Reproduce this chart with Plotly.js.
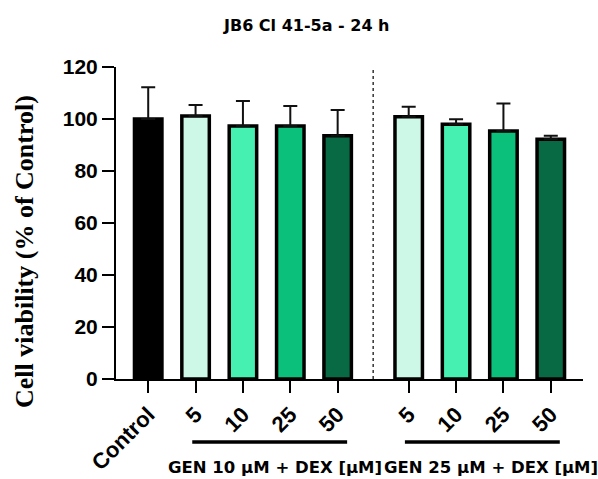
<!DOCTYPE html>
<html>
<head>
<meta charset="utf-8">
<script src="https://cdn.plot.ly/plotly-3.0.1.min.js"></script>
<style>html,body{margin:0;padding:0;background:#fff;}#chart{width:598px;height:479px;}</style>
</head>
<body>
<div id="chart"></div>
<script>
// ---- data ----
const titleText = "JB6 Cl 41-5a - 24 h";
const yTitle = "Cell viability (% of Control)";
const controlLabel = "Control";
const controlValue = 100;
const controlSD = 12.2;
const doseLabels = ["5", "10", "25", "50"];
const group1Name = "GEN 10 μM + DEX [μM]";
const group1Values = [101.2, 97.3, 97.3, 93.6];
const group1SD = [4.2, 9.6, 7.7, 9.9];
const group2Name = "GEN 25 μM + DEX [μM]";
const group2Values = [100.9, 98.0, 95.4, 92.2];
const group2SD = [3.8, 1.9, 10.6, 1.4];
const doseColors = ["#cdf7e6", "#45f0b0", "#0bc07b", "#086a44"];
const controlColor = "#000000";

// ---- layout positions (control, then two groups separated by a wider gap) ----
const groupGap = 1.5;
const g1Start = 1;
const g2Start = g1Start + doseLabels.length - 1 + groupGap;
const xPos = [0]
  .concat(doseLabels.map((_, i) => g1Start + i))
  .concat(doseLabels.map((_, i) => g2Start + i));
const yVals = [controlValue].concat(group1Values, group2Values);
const sds = [controlSD].concat(group1SD, group2SD);
const colors = [controlColor].concat(doseColors, doseColors);
const tickText = [controlLabel].concat(doseLabels, doseLabels);

const trace = {
  type: "bar",
  x: xPos,
  y: yVals,
  width: 0.58,
  marker: { color: colors, line: { color: "#000", width: 3.5 } },
  error_y: {
    type: "data", symmetric: false, array: sds,
    arrayminus: sds.map(() => 0),
    color: "#111", thickness: 2, width: 7
  },
  hoverinfo: "x+y",
  showlegend: false
};

const sepX = (g1Start + doseLabels.length - 1 + g2Start) / 2;
const g1Mid = g1Start + (doseLabels.length - 1) / 2;
const g2Mid = g2Start + (doseLabels.length - 1) / 2;
const xMin = -0.68, xMax = g2Start + doseLabels.length - 1 + 0.68;

const layout = {
  width: 598, height: 479,
  margin: { l: 116, r: 15, t: 67, b: 100 },
  paper_bgcolor: "#fff", plot_bgcolor: "#fff",
  title: {
    text: "<b>" + titleText + "</b>",
    font: { family: "DejaVu Sans", size: 16, color: "#000" },
    x: 0.513, xanchor: "center", xref: "container",
    y: 0.948, yanchor: "middle", yref: "container"
  },
  xaxis: {
    range: [xMin, xMax],
    tickmode: "array", tickvals: xPos, ticktext: tickText,
    tickangle: -45,
    ticks: "outside", ticklen: 12, tickwidth: 2, tickcolor: "#000",
    showline: true, linewidth: 2, linecolor: "#000",
    showgrid: false, zeroline: false, automargin: false,
    tickfont: { family: "Liberation Sans, Arial", size: 22, color: "#000", weight: "bold" }
  },
  yaxis: {
    range: [0, 120], dtick: 20, tick0: 0,
    ticks: "outside", ticklen: 12, tickwidth: 2, tickcolor: "#000",
    showline: true, linewidth: 2, linecolor: "#000",
    showgrid: false, zeroline: false, automargin: false,
    tickfont: { family: "Liberation Sans, Arial", size: 21, color: "#000", weight: "bold" }
  },
  shapes: [
    { type: "line", xref: "x", yref: "y", x0: sepX, x1: sepX, y0: 0, y1: 119.5,
      line: { color: "#333", width: 1.5, dash: "dot" } },
    { type: "line", xref: "x", yref: "paper", x0: g1Start - 0.07, x1: g1Start + 3.2, y0: -0.202, y1: -0.202,
      line: { color: "#000", width: 3.5 } },
    { type: "line", xref: "x", yref: "paper", x0: g2Start - 0.08, x1: g2Start + 3.19, y0: -0.202, y1: -0.202,
      line: { color: "#000", width: 3.5 } }
  ],
  annotations: [
    { text: "<b>" + yTitle + "</b>", textangle: -90, showarrow: false,
      xref: "paper", yref: "paper", x: -0.197, y: 0.407, xanchor: "center", yanchor: "middle",
      font: { family: "Liberation Serif, Times New Roman", size: 26, color: "#000" } },
    { text: "<b>" + group1Name + "</b>", showarrow: false,
      xref: "x", yref: "paper", x: g1Mid + 0.18, y: -0.285, xanchor: "center", yanchor: "middle",
      font: { family: "DejaVu Sans", size: 16.5, color: "#000" } },
    { text: "<b>" + group2Name + "</b>", showarrow: false,
      xref: "x", yref: "paper", x: g2Mid + 0.24, y: -0.285, xanchor: "center", yanchor: "middle",
      font: { family: "DejaVu Sans", size: 16.5, color: "#000" } }
  ]
};

Plotly.newPlot("chart", [trace], layout, { displayModeBar: false, staticPlot: true });
</script>
</body>
</html>
